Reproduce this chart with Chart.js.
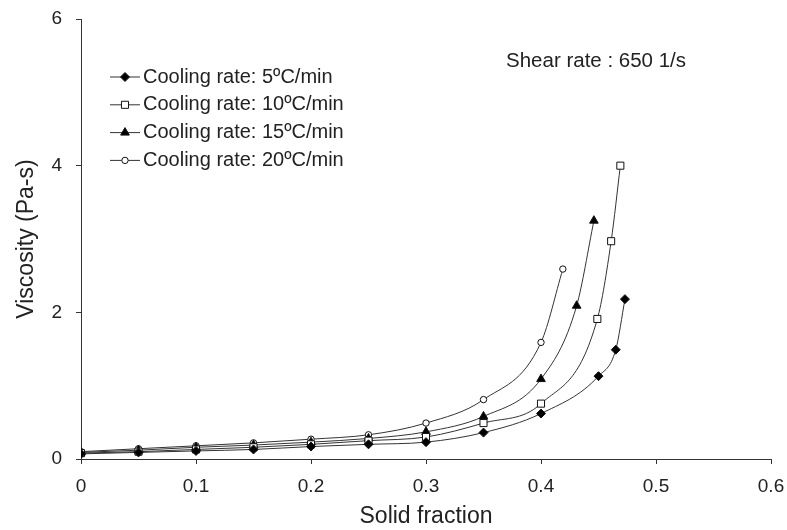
<!DOCTYPE html>
<html lang="en">
<head>
<meta charset="UTF-8">
<title>Viscosity vs solid fraction</title>
<script src="https://cdn.jsdelivr.net/npm/chart.js"></script>
<style>
    html, body { margin: 0; padding: 0; background: #fff; }
    #wrap { width: 787px; height: 530px; }
</style>
</head>
<body>
<div id="wrap"><canvas id="viscChart" width="787" height="530"></canvas></div>
<script>
// values
var seriesNames = ['Cooling rate: 5ºC/min', 'Cooling rate: 10ºC/min', 'Cooling rate: 15ºC/min', 'Cooling rate: 20ºC/min'];

var xs5  = [0, 0.05, 0.1, 0.15, 0.2, 0.25, 0.3, 0.35, 0.4, 0.45, 0.465, 0.473];
var ys5  = [0.07, 0.09, 0.11, 0.13, 0.17, 0.20, 0.23, 0.36, 0.62, 1.13, 1.49, 2.18];
var xs10 = [0, 0.05, 0.1, 0.15, 0.2, 0.25, 0.3, 0.35, 0.4, 0.449, 0.461, 0.469];
var ys10 = [0.08, 0.10, 0.13, 0.16, 0.20, 0.25, 0.30, 0.49, 0.755, 1.91, 2.97, 4.0];
var xs15 = [0, 0.05, 0.1, 0.15, 0.2, 0.25, 0.3, 0.35, 0.4, 0.431, 0.446];
var ys15 = [0.09, 0.12, 0.16, 0.19, 0.23, 0.28, 0.37, 0.58, 1.09, 2.09, 3.25];
var xs20 = [0, 0.05, 0.1, 0.15, 0.2, 0.25, 0.3, 0.35, 0.4, 0.419];
var ys20 = [0.10, 0.14, 0.18, 0.22, 0.27, 0.33, 0.49, 0.81, 1.59, 2.59];

var xTickLabels = ['0', '0.1', '0.2', '0.3', '0.4', '0.5', '0.6'];
var yTickLabels = ['0', '2', '4', '6'];
var noteText = 'Shear rate : 650 1/s';

var fontFamily = '"Liberation Sans", Arial, sans-serif';
var inkColor = '#222';

function toPoints(xs, ys) {
    return xs.map((x, i) => ({ x: x, y: ys[i] }));
}

function makeSeries(label, xs, ys, style, radius, fill) {
    return {
        label: label,
        data: toPoints(xs, ys),
        borderColor: '#333',
        borderWidth: 1,
        pointStyle: style,
        pointRadius: radius,
        pointBackgroundColor: fill,
        pointBorderColor: '#111',
        pointBorderWidth: 1,
        cubicInterpolationMode: 'monotone',
        fill: false
    };
}

var datasets = [
    makeSeries(seriesNames[0], xs5, ys5, 'rectRot', 4.5, '#000'),
    makeSeries(seriesNames[1], xs10, ys10, 'rect', 5, '#fff'),
    makeSeries(seriesNames[2], xs15, ys15, 'triangle', 5, '#000'),
    makeSeries(seriesNames[3], xs20, ys20, 'circle', 3.2, '#fff')
];

// legend inside the plot plus the shear rate note
var insideLegend = {
    id: 'insideLegend',
    afterDraw: function (chart) {
        var ctx = chart.ctx;
        ctx.save();
        ctx.font = '20px ' + fontFamily;
        ctx.fillStyle = inkColor;
        ctx.textBaseline = 'middle';
        chart.data.datasets.forEach(function (ds, i) {
            var y = 77 + i * 27.8;
            ctx.strokeStyle = ds.borderColor;
            ctx.lineWidth = 1;
            ctx.beginPath();
            ctx.moveTo(110, y);
            ctx.lineTo(140, y);
            ctx.stroke();
            ctx.fillStyle = ds.pointBackgroundColor;
            ctx.strokeStyle = ds.pointBorderColor;
            Chart.helpers.drawPoint(ctx, {
                pointStyle: ds.pointStyle,
                radius: ds.pointRadius,
                borderWidth: 1,
                rotation: 0
            }, 125, y);
            ctx.fillStyle = inkColor;
            ctx.fillText(ds.label, 143, y);
        });
        ctx.font = '20.5px ' + fontFamily;
        ctx.fillText(noteText, 506, 61);
        ctx.restore();
    }
};

var ctxVisc = document.getElementById('viscChart').getContext('2d');
var viscChart = new Chart(ctxVisc, {
    type: 'line',
    data: { datasets: datasets },
    options: {
        responsive: false,
        animation: false,
        layout: { padding: { left: 0, top: 19, right: 16, bottom: 0 } },
        plugins: {
            legend: { display: false },
            tooltip: { enabled: false }
        },
        scales: {
            x: {
                type: 'linear',
                min: 0,
                max: 0.6,
                afterFit: function (scale) {
                    scale.height = 71;
                    scale.paddingLeft = 0;
                    scale.paddingRight = 0;
                },
                afterBuildTicks: function (scale) {
                    scale.ticks = xTickLabels.map(v => ({ value: parseFloat(v) }));
                },
                ticks: {
                    color: inkColor,
                    font: { family: fontFamily, size: 19 },
                    padding: 11,
                    maxRotation: 0,
                    callback: function (value, index) { return xTickLabels[index]; }
                },
                grid: { drawOnChartArea: false, drawTicks: true, tickLength: 5, color: '#333' },
                border: { color: '#333', width: 1 },
                title: {
                    display: true,
                    text: 'Solid fraction',
                    color: inkColor,
                    font: { family: fontFamily, size: 23 },
                    padding: { top: 0, bottom: 0 }
                }
            },
            y: {
                type: 'linear',
                min: 0,
                max: 6,
                afterFit: function (scale) {
                    scale.width = 81;
                    scale.paddingTop = 0;
                    scale.paddingBottom = 0;
                },
                afterBuildTicks: function (scale) {
                    scale.ticks = yTickLabels.map(v => ({ value: parseFloat(v) }));
                },
                ticks: {
                    color: inkColor,
                    font: { family: fontFamily, size: 19 },
                    padding: 14,
                    callback: function (value, index) { return yTickLabels[index]; }
                },
                grid: { drawOnChartArea: false, drawTicks: true, tickLength: 5, color: '#333' },
                border: { color: '#333', width: 1 },
                title: {
                    display: true,
                    text: 'Viscosity (Pa-s)',
                    color: inkColor,
                    font: { family: fontFamily, size: 23 },
                    padding: { top: 13, bottom: 0 }
                }
            }
        }
    },
    plugins: [insideLegend]
});
</script>
</body>
</html>
